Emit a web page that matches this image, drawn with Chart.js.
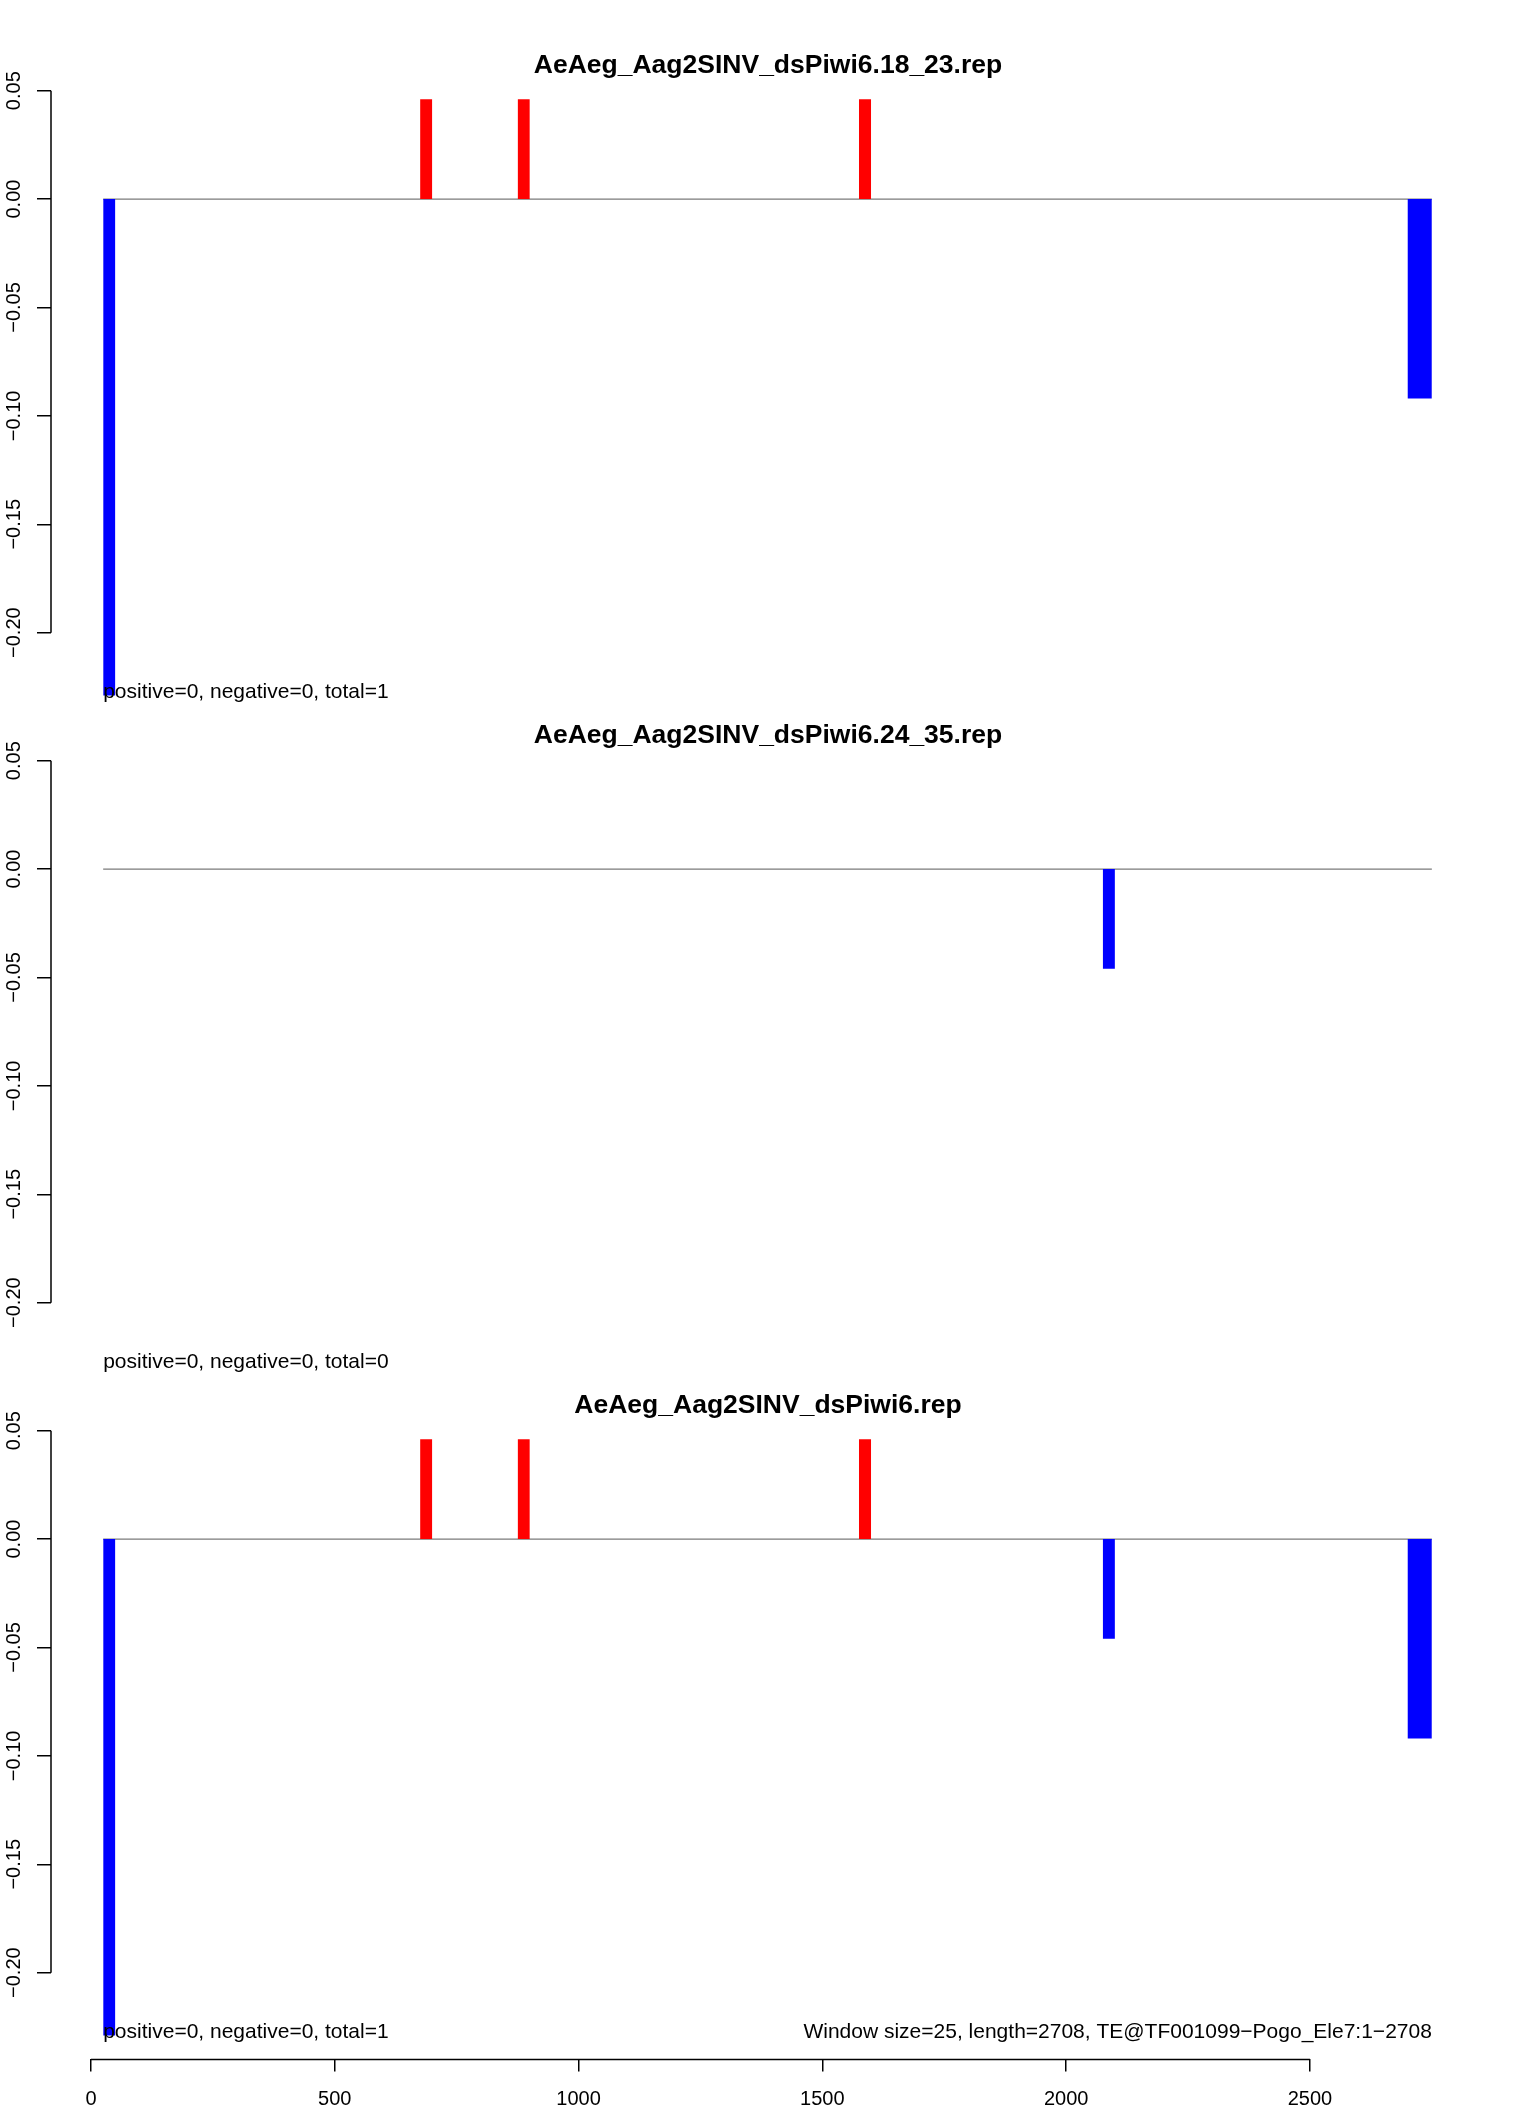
<!DOCTYPE html>
<html>
<head>
<meta charset="utf-8">
<script src="https://cdn.jsdelivr.net/npm/chart.js@4/dist/chart.umd.min.js"></script>
<style>
  body { margin: 0; background: #fff; }
  #wrap { position: relative; width: 1536px; height: 2112px; overflow: hidden; background: #fff; }
  #wrap canvas { position: absolute; left: 0; }
</style>
</head>
<body>
<div id="wrap">
  <canvas id="panel1" width="1536" height="740" style="top:0px"></canvas>
  <canvas id="panel2" width="1536" height="740" style="top:670px"></canvas>
  <canvas id="panel3" width="1536" height="772" style="top:1340px"></canvas>
</div>
<script>
// window coordinates (start / end along the TE) and normalised counts
const p1Title = 'AeAeg_Aag2SINV_dsPiwi6.18_23.rep';
const p1Starts = [25, 675, 875, 1575, 2700];
const p1Ends = [50, 700, 900, 1600, 2750];
const p1Values = [-0.229, 0.046, 0.046, 0.046, -0.092];
const p1Summary = 'positive=0, negative=0, total=1';

const p2Title = 'AeAeg_Aag2SINV_dsPiwi6.24_35.rep';
const p2Starts = [2075];
const p2Ends = [2100];
const p2Values = [-0.046];
const p2Summary = 'positive=0, negative=0, total=0';

const p3Title = 'AeAeg_Aag2SINV_dsPiwi6.rep';
const p3Starts = [25, 675, 875, 1575, 2075, 2700];
const p3Ends = [50, 700, 900, 1600, 2100, 2750];
const p3Values = [-0.229, 0.046, 0.046, 0.046, -0.046, -0.092];
const p3Summary = 'positive=0, negative=0, total=1';
const p3Footnote = 'Window size=25, length=2708, TE@TF001099\u2212Pogo_Ele7:1\u22122708';

// zero line runs across the data range
const baseStart = 25;
const baseEnd = 2750;

// axis ticks
const xTicks = [0, 500, 1000, 1500, 2000, 2500];
const yTicks = [-0.20, -0.15, -0.10, -0.05, 0.00, 0.05];

Chart.defaults.font.family = '"Liberation Sans", Arial, Helvetica, sans-serif';
Chart.defaults.color = '#000';

// R-like axis lines (only between first and last tick) and margin texts
const rStyle = {
    id: 'rStyle',
    afterDraw(chart, args, opts) {
        const ctx = chart.ctx;
        const xs = chart.scales.x;
        const ys = chart.scales.y;
        ctx.save();
        ctx.strokeStyle = '#000';
        ctx.lineWidth = 1.5;
        ctx.beginPath();
        ctx.moveTo(ys.right, ys.getPixelForValue(yTicks[0]));
        ctx.lineTo(ys.right, ys.getPixelForValue(yTicks[yTicks.length - 1]));
        ctx.stroke();
        if (opts.xAxis) {
            ctx.beginPath();
            ctx.moveTo(xs.getPixelForValue(xTicks[0]), xs.top);
            ctx.lineTo(xs.getPixelForValue(xTicks[xTicks.length - 1]), xs.top);
            ctx.stroke();
        }
        ctx.fillStyle = '#000';
        ctx.font = '21px "Liberation Sans", Arial, Helvetica, sans-serif';
        ctx.textBaseline = 'middle';
        const ty = chart.chartArea.bottom - 27.5;
        ctx.textAlign = 'left';
        ctx.fillText(opts.summary, xs.getPixelForValue(baseStart), ty);
        if (opts.footnote) {
            ctx.textAlign = 'right';
            ctx.fillText(opts.footnote, xs.getPixelForValue(baseEnd), ty);
        }
        ctx.restore();
    }
};

function makePanel(id, title, starts, ends, values, summary, footnote, showX) {
    const datasets = [];
    // each window drawn as a filled rectangle down/up to zero
    for (let i = 0; i < values.length; i++) {
        datasets.push({
            data: [
                { x: starts[i], y: 0 },
                { x: starts[i], y: values[i] },
                { x: ends[i], y: values[i] },
                { x: ends[i], y: 0 }
            ],
            backgroundColor: values[i] >= 0 ? '#ff0000' : '#0000ff',
            borderColor: 'rgba(0,0,0,0)',
            borderWidth: 0,
            fill: 'origin',
            pointRadius: 0,
            tension: 0
        });
    }
    // grey zero line (last dataset -> drawn underneath)
    datasets.push({
        data: [{ x: baseStart, y: 0 }, { x: baseEnd, y: 0 }],
        borderColor: '#7a7a7a',
        borderWidth: 1.3,
        pointRadius: 0,
        fill: false
    });

    new Chart(document.getElementById(id), {
        type: 'line',
        data: { datasets: datasets },
        plugins: [rStyle],
        options: {
            responsive: false,
            animation: false,
            layout: { padding: { left: 0, right: 0, top: 0, bottom: showX ? 0 : 20.6 } },
            scales: {
                x: {
                    type: 'linear',
                    min: -82,
                    max: 2859,
                    display: showX,
                    afterBuildTicks: s => { s.ticks = xTicks.map(v => ({ value: v })); },
                    afterFit: s => { s.height = showX ? 52.6 : 0; },
                    border: { display: false },
                    grid: { drawOnChartArea: false, tickLength: 12, color: '#000', lineWidth: 1.5 },
                    ticks: {
                        autoSkip: false, maxRotation: 0, padding: 16,
                        font: { size: 20 }, color: '#000',
                        callback: v => String(v)
                    }
                },
                y: {
                    type: 'linear',
                    min: -0.24,
                    max: 0.057,
                    afterBuildTicks: s => { s.ticks = yTicks.map(v => ({ value: v })); },
                    afterFit: s => { s.width = 51; },
                    border: { display: false },
                    grid: { drawOnChartArea: false, tickLength: 14, color: '#000', lineWidth: 1.5 },
                    ticks: {
                        autoSkip: false, minRotation: 90, maxRotation: 90,
                        crossAlign: 'center', padding: -3,
                        font: { size: 20 }, color: '#000',
                        callback: v => v.toFixed(2).replace('-', '\u2212')
                    }
                },
                // empty right margin so the title centres on the full page width
                yRight: {
                    type: 'linear',
                    position: 'right',
                    display: true,
                    afterFit: s => { s.width = 51; },
                    border: { display: false },
                    grid: { display: false },
                    ticks: { display: false }
                }
            },
            plugins: {
                legend: { display: false },
                tooltip: { enabled: false },
                title: {
                    display: true,
                    text: title,
                    color: '#000',
                    font: { size: 26.5, weight: 'bold', lineHeight: 1 },
                    padding: { top: 52, bottom: -3 }
                },
                rStyle: { summary: summary, footnote: footnote, xAxis: showX }
            }
        }
    });
}

makePanel('panel1', p1Title, p1Starts, p1Ends, p1Values, p1Summary, null, false);
makePanel('panel2', p2Title, p2Starts, p2Ends, p2Values, p2Summary, null, false);
makePanel('panel3', p3Title, p3Starts, p3Ends, p3Values, p3Summary, p3Footnote, true);
</script>
</body>
</html>
